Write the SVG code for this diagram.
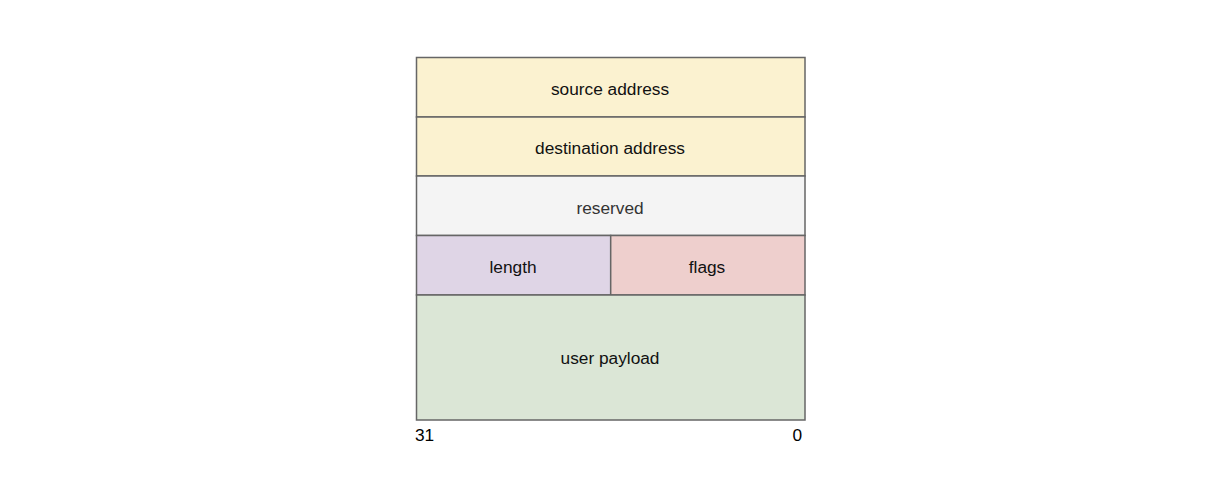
<svg xmlns="http://www.w3.org/2000/svg" width="1228" height="504" viewBox="0 0 1228 504">
<style>
.c{stroke:#666666;stroke-width:1.5}
.t{font-family:"Liberation Sans",Arial,sans-serif;font-size:17.3px;fill:#111111;text-anchor:middle}
.n{font-family:"Liberation Sans",Arial,sans-serif;font-size:17.3px;fill:#000}
</style>
<rect width="1228" height="504" fill="#ffffff"/>
<g id="source">
<rect class="c" x="416.5" y="57.5" width="388.5" height="59.5" fill="#fbf2d0"/>
<text class="t" x="610" y="95">source address</text>
</g>
<g id="destination">
<rect class="c" x="416.5" y="117" width="388.5" height="59" fill="#fbf2d0"/>
<text class="t" x="610" y="154">destination address</text>
</g>
<g id="reserved">
<rect class="c" x="416.5" y="176" width="388.5" height="59.5" fill="#f4f4f4"/>
<text class="t" x="610" y="214" style="fill:#333333">reserved</text>
</g>
<g id="length">
<rect class="c" x="416.5" y="235.5" width="194.2" height="59.5" fill="#dfd5e6"/>
<text class="t" x="513" y="273">length</text>
</g>
<g id="flags">
<rect class="c" x="610.7" y="235.5" width="194.3" height="59.5" fill="#eecfcd"/>
<text class="t" x="707" y="273">flags</text>
</g>
<g id="payload">
<rect class="c" x="416.5" y="295" width="388.5" height="125" fill="#dbe6d6"/>
<text class="t" x="610" y="364">user payload</text>
</g>
<g id="labels">
<text class="n" x="415" y="441">31</text>
<text class="n" x="802" y="441" text-anchor="end">0</text>
</g>
<g id="connectors"/>
</svg>
